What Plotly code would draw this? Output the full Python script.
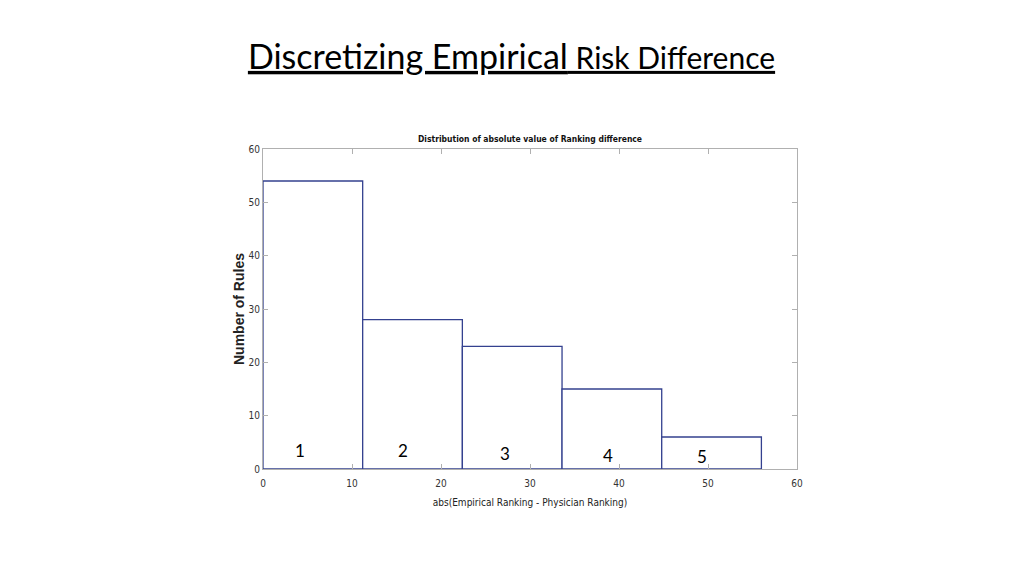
import plotly.graph_objects as go

bin_edges = [0, 11.2, 22.4, 33.6, 44.8, 56.0]
counts = [54, 28, 23, 15, 6]
group_labels = ["1", "2", "3", "4", "5"]
label_x = [4.2, 15.7, 27.2, 38.8, 49.3]
label_y = [3.4, 3.4, 3.0, 2.6, 2.3]
x_ticks = [0, 10, 20, 30, 40, 50, 60]
y_ticks = [0, 10, 20, 30, 40, 50, 60]

centers = [(a + b) / 2 for a, b in zip(bin_edges[:-1], bin_edges[1:])]
widths = [b - a for a, b in zip(bin_edges[:-1], bin_edges[1:])]

narrow = "DejaVu Sans Condensed, Liberation Sans Narrow, Arial Narrow, Liberation Sans, sans-serif"
cal = "Lato, Open Sans, sans-serif"

fig = go.Figure()
fig.add_trace(go.Bar(
    x=centers, y=counts, width=widths,
    marker=dict(color="white", line=dict(color="#34418f", width=1.3)),
    showlegend=False, hoverinfo="x+y",
))

for t, x, y in zip(group_labels, label_x, label_y):
    fig.add_annotation(x=x, y=y, text=t, showarrow=False, xref="x", yref="y",
                       font=dict(family=cal, size=17, color="black"))

fig.update_layout(
    width=1024, height=576,
    paper_bgcolor="white", plot_bgcolor="white",
    margin=dict(l=255, r=235, t=141, b=115),
    title=dict(
        text="<u>Discretizing Empirical<span style='font-size:30px'> Risk Difference</span></u>",
        x=503.5 / 1024, xref="container", xanchor="center",
        y=1 - 49 / 576, yref="container", yanchor="middle",
        font=dict(family=cal, size=34, color="black"),
    ),
    xaxis=dict(
        range=[0, 60], tickvals=x_ticks, ticks="inside", ticklen=5,
        tickcolor="#b0b0b0", linecolor="#b0b0b0", linewidth=1, mirror="ticks",
        showgrid=False, zeroline=False, ticklabelstandoff=5,
        tickfont=dict(family=narrow, size=10, color="#333333"),
        title=dict(text="abs(Empirical Ranking - Physician Ranking)",
                   font=dict(family=narrow, size=10, color="#222222"), standoff=10),
    ),
    yaxis=dict(
        range=[0, 60], tickvals=y_ticks, ticks="inside", ticklen=5,
        tickcolor="#b0b0b0", linecolor="#b0b0b0", linewidth=1, mirror="ticks",
        showgrid=False, zeroline=False,
        tickfont=dict(family=narrow, size=10, color="#333333"),
        title=dict(text="<b>Number of Rules</b>",
                   font=dict(family="Liberation Sans, Arial, sans-serif", size=14, color="#222222"),
                   standoff=0),
    ),
)

fig.add_annotation(
    x=0.5, y=1, xref="paper", yref="paper", yshift=3, yanchor="bottom",
    text="<b>Distribution of absolute value of Ranking difference</b>",
    showarrow=False, font=dict(family=narrow, size=8.5, color="#111111"),
)

fig.write_html("out.html")
